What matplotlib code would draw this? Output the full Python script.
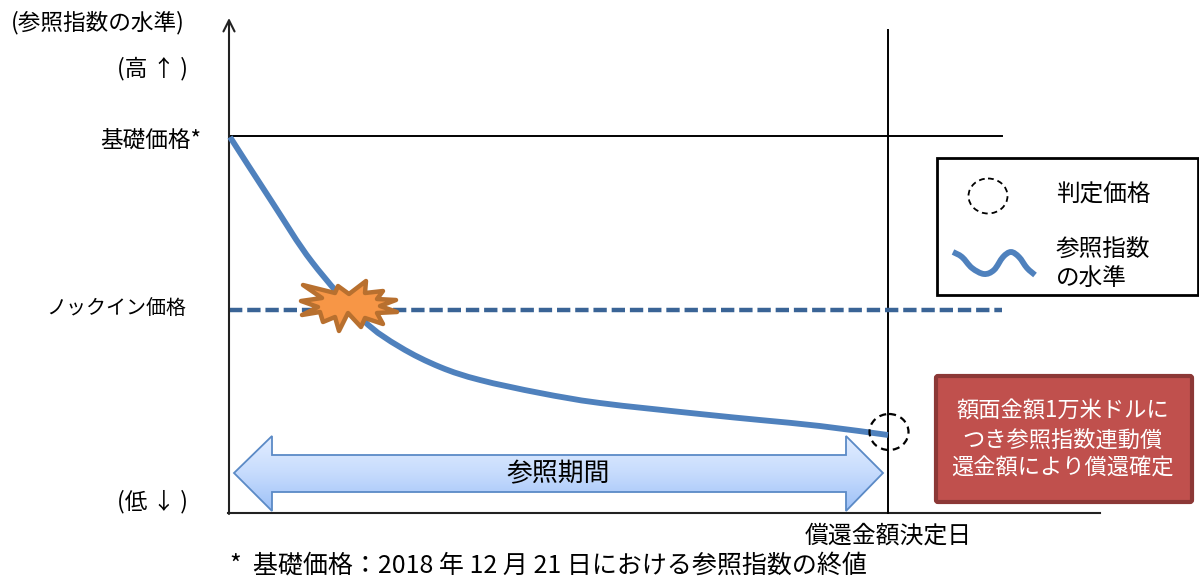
import matplotlib
matplotlib.use("Agg")
import matplotlib.pyplot as plt
from matplotlib.patches import Polygon, Ellipse, Rectangle, FancyBboxPatch, PathPatch
from matplotlib.path import Path
from matplotlib.colors import LinearSegmentedColormap
import numpy as np

plt.rcParams['font.family'] = ['Noto Sans CJK JP', 'DejaVu Sans']

# index path, in pixels of the schematic
curve_x = [230, 272, 312, 363, 400, 440, 480, 540, 600, 700, 760, 820, 888]
curve_y = [137, 202, 262, 320, 347, 367, 380, 393, 403, 414, 420, 426, 435]

legend_x = [953, 962, 972, 984, 994, 1003, 1011, 1019, 1027, 1035]
legend_y = [252, 257, 268, 274, 270, 257, 252, 257, 268, 275]

burst_x = [303, 335, 338, 349, 366, 365, 383, 377, 396, 380, 397, 377, 383, 365, 361, 348, 339, 335, 323, 320, 302, 318, 301, 322]
burst_y = [285, 293, 286, 294, 281, 293, 291, 299, 300, 306, 312, 313, 324, 318, 327, 313, 331, 317, 322, 312, 315, 307, 301, 298]

arrow_x = [234, 272, 272, 846, 846, 883, 846, 846, 272, 272]
arrow_y = [473, 436, 455, 455, 436, 473, 511, 492, 492, 511]

base_y = 136
knockin_y = 310
decision_x = 888


def smooth_path(xs, ys):
    # Catmull-Rom spline through the points, as cubic Bezier segments
    pts = np.column_stack([xs, ys]).astype(float)
    verts = [pts[0]]
    codes = [Path.MOVETO]
    for i in range(len(pts) - 1):
        p0 = pts[max(i - 1, 0)]
        p1 = pts[i]
        p2 = pts[i + 1]
        p3 = pts[min(i + 2, len(pts) - 1)]
        verts += [p1 + (p2 - p0) / 6, p2 - (p3 - p1) / 6, p2]
        codes += [Path.CURVE4] * 3
    return Path(verts, codes)


fig = plt.figure(figsize=(11.99, 5.80), dpi=100)
ax = fig.add_axes([0, 0, 1, 1])
ax.set_xlim(0, 1199)
ax.set_ylim(580, 0)
ax.axis('off')

# axes and reference lines
ax.annotate('', xy=(229, 18), xytext=(229, 514),
            arrowprops=dict(arrowstyle='->', color='#222222', lw=1.5, mutation_scale=20, shrinkA=0, shrinkB=0))
ax.plot([228, 1100], [513, 513], color='#222222', lw=1.5)
ax.plot([229, 1002], [base_y, base_y], color='black', lw=1.4)
ax.plot([decision_x, decision_x], [30, 513], color='black', lw=1.4)
ax.plot([229, 1002], [knockin_y, knockin_y], color='#3A6496', lw=3.2, dashes=(3.0, 1.1))

ax.add_patch(PathPatch(smooth_path(curve_x, curve_y), facecolor='none', edgecolor='#4F81BD',
                       lw=4.2, capstyle='butt', zorder=3))

ax.add_patch(Polygon(np.column_stack([burst_x, burst_y]), closed=True, facecolor='#F79646',
                     edgecolor='#B8702F', lw=3.2, joinstyle='round', zorder=4))

# period arrow with a vertical gradient fill
cmap = LinearSegmentedColormap.from_list('arrow_fill', ['#E3EEFF', '#C6DBFD', '#9DC1F7'])
grad = np.linspace(0, 1, 256).reshape(-1, 1)
im = ax.imshow(grad, extent=(234, 883, 511, 436), cmap=cmap, aspect='auto', zorder=2)
arrow = Polygon(np.column_stack([arrow_x, arrow_y]), closed=True, facecolor='none',
                edgecolor='#5B8AC6', lw=1.3, zorder=2.5)
ax.add_patch(arrow)
im.set_clip_path(arrow)
ax.set_xlim(0, 1199)
ax.set_ylim(580, 0)
ax.text(558, 474, '参照期間', fontsize=18.6, ha='center', va='center', zorder=5)

# judgement price marker
ax.add_patch(Ellipse((889, 432), 39, 36, facecolor='none', edgecolor='black', lw=1.6,
                     linestyle=(0, (3.2, 2.2)), zorder=5))

# legend box
ax.add_patch(Rectangle((937, 158), 261, 137, facecolor='white', edgecolor='black', lw=2, zorder=2))
ax.add_patch(Ellipse((988, 196), 39, 35, facecolor='none', edgecolor='black', lw=1.3,
                     linestyle=(0, (3.2, 2.2)), zorder=3))
ax.add_patch(PathPatch(smooth_path(legend_x, legend_y), facecolor='none', edgecolor='#4F81BD',
                       lw=4.2, capstyle='butt', zorder=3))
ax.text(1056, 195, '判定価格', fontsize=17, va='center', zorder=3)
ax.text(1056, 250, '参照指数', fontsize=17, va='center', zorder=3)
ax.text(1056, 278, 'の水準', fontsize=17, va='center', zorder=3)

# result box
ax.add_patch(FancyBboxPatch((936, 376), 256, 126, boxstyle='round,pad=0,rounding_size=2',
                            facecolor='#C0504D', edgecolor='#8C3836', lw=3, zorder=2))
ax.text(1063, 411, '額面金額1万米ドルに', color='white', fontsize=16, ha='center', va='center', zorder=3)
ax.text(1063, 440, 'つき参照指数連動償', color='white', fontsize=16, ha='center', va='center', zorder=3)
ax.text(1062, 468, '還金額により償還確定', color='white', fontsize=16, ha='center', va='center', zorder=3)

# left-hand labels
ax.text(11, 23, '(参照指数の水準)', fontsize=16.3, va='center')
ax.text(117, 69, '(高 ↑ )', fontsize=16.3, va='center')
ax.text(100, 140, '基礎価格*', fontsize=16.3, va='center')
ax.text(46, 309, 'ノックイン価格', fontsize=14.4, va='center')
ax.text(117, 502, '(低 ↓ )', fontsize=16.3, va='center')

ax.text(888, 536, '償還金額決定日', fontsize=17.2, ha='center', va='center')
ax.text(230, 566, '*  基礎価格：2018 年 12 月 21 日における参照指数の終値', fontsize=18, va='center')

fig.savefig('out.png', dpi=100)
plt.close()
